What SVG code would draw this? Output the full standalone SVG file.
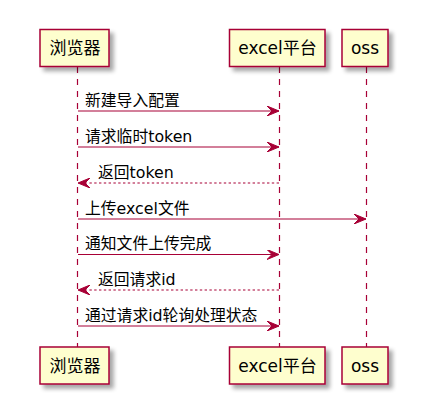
<svg xmlns="http://www.w3.org/2000/svg" width="429" height="417" viewBox="0 0 429 417">
<defs>
<filter id="sh" x="-20%" y="-20%" width="150%" height="160%">
<feGaussianBlur in="SourceAlpha" stdDeviation="2"/>
<feOffset dx="4" dy="4" result="b"/>
<feComponentTransfer><feFuncA type="linear" slope="0.35"/></feComponentTransfer>
<feMerge><feMergeNode/><feMergeNode in="SourceGraphic"/></feMerge>
</filter>
<marker id="ah" viewBox="0 0 12 10" refX="12" refY="5" markerWidth="12" markerHeight="10" markerUnits="userSpaceOnUse" orient="auto">
<polygon points="0,0 12,5 0,10 5,5" fill="#A80036" stroke="#A80036" stroke-width="1"/>
</marker>
</defs>
<style>
.box{fill:#FEFECE;stroke:#A80036;stroke-width:1.5;filter:url(#sh)}
.pt{font-family:"DejaVu Sans","Noto Sans CJK SC",sans-serif;font-size:17px;fill:#000;text-anchor:middle}
.life{stroke:#A80036;stroke-width:1.2;stroke-dasharray:6,6;fill:none}
.msg{stroke:#A80036;stroke-width:1.2;fill:none;marker-end:url(#ah)}
.ret{stroke-dasharray:2.4,2.4}
.mt{font-family:"DejaVu Sans","Noto Sans CJK SC",sans-serif;font-size:15.8px;fill:#000}
</style>
<g id="lifelines">
<line class="life" x1="77.5" y1="67" x2="77.5" y2="347"/>
<line class="life" x1="279.5" y1="67" x2="279.5" y2="347"/>
<line class="life" x1="366.5" y1="67" x2="366.5" y2="347"/>
</g>
<g id="browser-top"><rect class="box" x="40" y="29.5" width="69" height="37"/><text class="pt" x="75" y="54">浏览器</text></g>
<g id="excel-top"><rect class="box" x="229.5" y="29.5" width="95.5" height="37"/><text class="pt" x="277.5" y="54">excel平台</text></g>
<g id="oss-top"><rect class="box" x="342" y="29.5" width="46" height="37"/><text class="pt" x="365" y="54">oss</text></g>
<g id="browser-bottom"><rect class="box" x="40" y="347" width="69" height="37"/><text class="pt" x="75" y="371.5">浏览器</text></g>
<g id="excel-bottom"><rect class="box" x="229.5" y="347" width="95.5" height="37"/><text class="pt" x="277.5" y="371.5">excel平台</text></g>
<g id="oss-bottom"><rect class="box" x="342" y="347" width="46" height="37"/><text class="pt" x="365" y="371.5">oss</text></g>
<g id="connectors">
<line class="msg" x1="78" y1="111" x2="279" y2="111"/>
<text class="mt" x="85" y="106">新建导入配置</text>
<line class="msg" x1="78" y1="147" x2="279" y2="147"/>
<text class="mt" x="85" y="141.5">请求临时token</text>
<line class="msg ret" x1="279" y1="183" x2="78" y2="183"/>
<text class="mt" x="98" y="177.5">返回token</text>
<line class="msg" x1="78" y1="219" x2="366" y2="219"/>
<text class="mt" x="85" y="213.5">上传excel文件</text>
<line class="msg" x1="78" y1="254.5" x2="279" y2="254.5"/>
<text class="mt" x="85" y="249">通知文件上传完成</text>
<line class="msg ret" x1="279" y1="290" x2="78" y2="290"/>
<text class="mt" x="98" y="285">返回请求id</text>
<line class="msg" x1="78" y1="326" x2="279" y2="326"/>
<text class="mt" x="85" y="321">通过请求id轮询处理状态</text>
</g>
</svg>
